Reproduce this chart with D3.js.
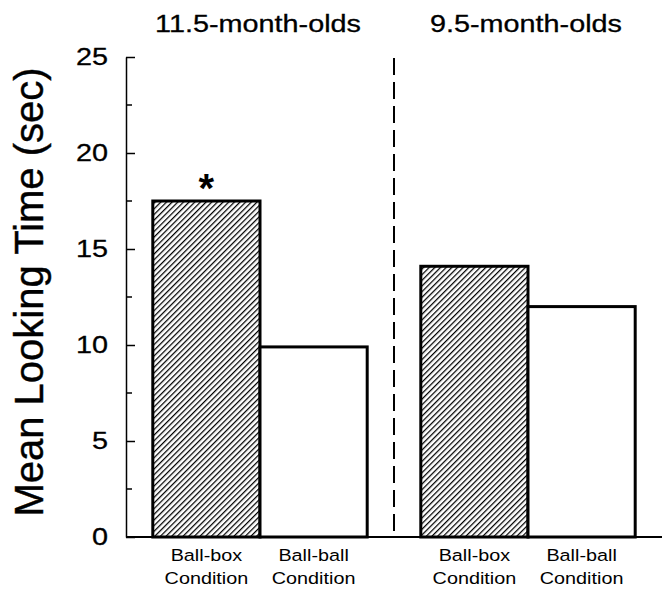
<!DOCTYPE html>
<html>
<head>
<meta charset="utf-8">
<script src="https://cdn.jsdelivr.net/npm/d3@7"></script>
<style>
  html, body { margin: 0; padding: 0; background: #fff; }
  svg { display: block; font-family: "Liberation Sans", Arial, Helvetica, sans-serif; }
</style>
</head>
<body>
<script>
// ---- data ----
const groups = ["11.5-month-olds", "9.5-month-olds"];
const conditions = ["Ball-box", "Ball-ball"];
const conditionLine2 = "Condition";
const values115 = [17.5, 9.9];
const values95 = [14.1, 12.0];
const significance = [["*", ""], ["", ""]];
const yMajorTicks = [0, 5, 10, 15, 20, 25];
const yMinorTicks = [2.5, 7.5, 12.5, 17.5, 22.5];
const yLabel = "Mean Looking Time (sec)";

const seriesByGroup = [values115, values95];
const rows = [];
groups.forEach((g, gi) => conditions.forEach((c, ci) => {
  rows.push({ group: g, cond: c, value: seriesByGroup[gi][ci], sig: significance[gi][ci] });
}));

// ---- layout ----
const W = 664, H = 589;
const SX = 1.2; // horizontal stretch of the original typesetting
const svg = d3.select("body").append("svg").attr("width", W).attr("height", H);

const defs = svg.append("defs");
const pat = defs.append("pattern")
  .attr("id", "hatch").attr("patternUnits", "userSpaceOnUse")
  .attr("width", 4).attr("height", 4)
  .attr("patternTransform", "rotate(45)");
pat.append("rect").attr("width", 4).attr("height", 4).attr("fill", "#fff");
pat.append("line").attr("x1", 0).attr("y1", 0).attr("x2", 0).attr("y2", 4)
  .attr("stroke", "#000").attr("stroke-width", 2.5);

const y = d3.scaleLinear().domain([0, 25]).range([537, 57]);
const x0 = d3.scaleBand().domain(groups).range([126, 662]).paddingInner(0).paddingOuter(0);
const x1 = d3.scaleBand().domain(conditions).range([0, x0.bandwidth()]).paddingInner(0).paddingOuter(0.25);

// bars
svg.append("g").selectAll("rect").data(rows).join("rect")
  .attr("x", d => x0(d.group) + x1(d.cond))
  .attr("y", d => y(d.value))
  .attr("width", x1.bandwidth())
  .attr("height", d => y(0) - y(d.value))
  .attr("fill", d => d.cond === conditions[0] ? "url(#hatch)" : "#fff")
  .attr("stroke", "#000").attr("stroke-width", 3);

// significance markers
svg.append("g").selectAll("text").data(rows.filter(d => d.sig)).join("text")
  .attr("transform", d => `translate(${x0(d.group) + x1(d.cond) + x1.bandwidth() / 2},${y(d.value) + 1})`)
  .attr("text-anchor", "middle")
  .attr("font-size", 40).attr("font-weight", "bold")
  .text(d => d.sig);

// y axis
const yAxis = d3.axisLeft(y).tickValues(yMajorTicks).tickFormat(d3.format("d"))
  .tickSizeInner(-9).tickSizeOuter(0).tickPadding(18);
const gy = svg.append("g").attr("transform", "translate(126,0)").call(yAxis);
gy.select(".domain").attr("stroke-width", 1.5);
gy.selectAll(".tick line").attr("stroke-width", 1.5);
gy.selectAll(".tick text")
  .attr("font-size", 24).attr("font-family", "Liberation Sans, Arial, sans-serif")
  .attr("fill", "#000").attr("stroke", "#000").attr("stroke-width", 0.3)
  .attr("x", -18 / SX).attr("dy", "0.3em")
  .attr("transform", `scale(${SX},1)`);

svg.append("g").selectAll("line").data(yMinorTicks).join("line")
  .attr("x1", 126).attr("x2", 132)
  .attr("y1", d => y(d)).attr("y2", d => y(d))
  .attr("stroke", "#000").attr("stroke-width", 1.5);

// x baseline
svg.append("line").attr("x1", 126).attr("x2", x0.range()[1])
  .attr("y1", y(0)).attr("y2", y(0))
  .attr("stroke", "#000").attr("stroke-width", 2);

// dashed separator between groups
svg.append("line")
  .attr("x1", x0(groups[1])).attr("x2", x0(groups[1]))
  .attr("y1", y(25) + 1).attr("y2", y(0))
  .attr("stroke", "#000").attr("stroke-width", 2)
  .attr("stroke-dasharray", "17,7");

// group titles
svg.append("g").selectAll("text").data(groups).join("text")
  .attr("transform", g => `translate(${x0(g) + x0.bandwidth() / 2 - 2},32) scale(${SX},1)`)
  .attr("text-anchor", "middle").attr("font-size", 24)
  .attr("stroke", "#000").attr("stroke-width", 0.3)
  .text(g => g);

// condition labels
const lab = svg.append("g").selectAll("g").data(rows).join("g")
  .attr("transform", d => `translate(${x0(d.group) + x1(d.cond) + x1.bandwidth() / 2},0) scale(${SX},1)`);
lab.append("text").attr("y", 561).attr("text-anchor", "middle").attr("font-size", 16.5).text(d => d.cond);
lab.append("text").attr("y", 584).attr("text-anchor", "middle").attr("font-size", 16.5).text(conditionLine2);

// y label
svg.append("text")
  .attr("transform", "translate(43,292) rotate(-90)")
  .attr("text-anchor", "middle").attr("font-size", 40)
  .attr("stroke", "#000").attr("stroke-width", 0.4)
  .text(yLabel);
</script>
</body>
</html>
